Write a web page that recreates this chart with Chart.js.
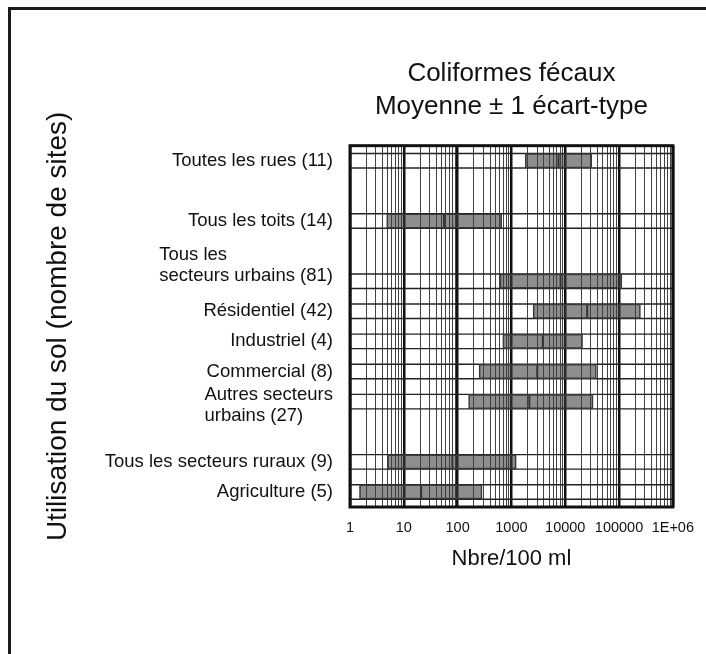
<!DOCTYPE html>
<html lang="fr">
<head>
<meta charset="utf-8">
<title>Coliformes fécaux</title>
<script src="https://cdn.jsdelivr.net/npm/chart.js@4.4.1/dist/chart.umd.min.js"></script>
<style>
  html, body { margin: 0; padding: 0; background: #fff; }
  #wrap { width: 706px; height: 654px; }
</style>
</head>
<body>
<div id="wrap"><canvas id="fecalChart" width="706" height="654"></canvas></div>
<script>
// Land use categories; empty strings keep the blank rows of the grid
const landUse = [
  "Toutes les rues (11)",
  "",
  "Tous les toits (14)",
  "",
  ["Tous les", "secteurs urbains (81)"],
  "Résidentiel (42)",
  "Industriel (4)",
  "Commercial (8)",
  ["Autres secteurs", "urbains (27)"],
  "",
  "Tous les secteurs ruraux (9)",
  "Agriculture (5)"
];

// Nbre/100 ml : moyenne - 1 écart-type, moyenne + 1 écart-type, moyenne
const lowSd  = [1800, null, 4.8, null, 610, 2530, 690, 250, 160, null, 5.0, 1.5];
const highSd = [31000, null, 660, null, 113000, 250000, 21000, 38000, 33000, null, 1230, 285];
const means  = [7500, null, 56, null, 8200, 25600, 3840, 3020, 2150, null, 80, 21];

const decadeLabels = ["1", "10", "100", "1000", "10000", "100000", "1E+06"];

const FONT = "'Liberation Sans', Arial, sans-serif";
Chart.defaults.font.family = FONT;
Chart.defaults.color = "#111";

function isDecade(v) {
  const e = Math.round(Math.log10(v));
  return Math.abs(v - Math.pow(10, e)) < 1e-9 * v;
}

/* =========================
   PLUGINS
========================= */

// white page with the rules on the left and top edge
const pageFrame = {
  id: "pageFrame",
  beforeDraw(chart) {
    const ctx = chart.ctx;
    ctx.save();
    ctx.fillStyle = "#fff";
    ctx.fillRect(0, 0, chart.width, chart.height);
    ctx.strokeStyle = "#1c1c1c";
    ctx.lineWidth = 3;
    ctx.beginPath();
    ctx.moveTo(9.5, chart.height);
    ctx.lineTo(9.5, 8.5);
    ctx.lineTo(chart.width, 8.5);
    ctx.stroke();
    ctx.restore();
  }
};

// horizontal rules along the top and bottom of every bar, plus the plot box
const barRules = {
  id: "barRules",
  beforeDatasetsDraw(chart) {
    const meta = chart.getDatasetMeta(0);
    const { left, right } = chart.chartArea;
    const ctx = chart.ctx;
    ctx.save();
    ctx.strokeStyle = "#222";
    ctx.lineWidth = 1.4;
    meta.data.forEach((bar, i) => {
      if (lowSd[i] == null) return;
      const half = bar.height / 2;
      [bar.y - half, bar.y + half].forEach((y) => {
        ctx.beginPath();
        ctx.moveTo(left, y);
        ctx.lineTo(right, y);
        ctx.stroke();
      });
    });
    ctx.restore();
  },
  afterDatasetsDraw(chart) {
    const { left, top, right, bottom } = chart.chartArea;
    const ctx = chart.ctx;
    ctx.save();
    ctx.strokeStyle = "#111";
    ctx.lineWidth = 3;
    ctx.strokeRect(left, top, right - left, bottom - top);
    ctx.restore();
  }
};

// category names, right aligned as a block, multi-line blocks left aligned inside
const rowLabels = {
  id: "rowLabels",
  afterDraw(chart, args, opts) {
    const yScale = chart.scales.y;
    const ctx = chart.ctx;
    ctx.save();
    ctx.font = opts.font;
    ctx.fillStyle = opts.color;
    ctx.textBaseline = "middle";
    ctx.textAlign = "left";
    chart.data.labels.forEach((label, i) => {
      if (!label) return;
      const lines = Array.isArray(label) ? label : [label];
      const w = Math.max(...lines.map((l) => ctx.measureText(l).width));
      const x = opts.right - w;
      const anchor = opts.anchorLine[i] || 0;
      const yc = yScale.getPixelForValue(i);
      lines.forEach((line, k) => ctx.fillText(line, x, yc + (k - anchor) * opts.lineHeight));
    });
    ctx.restore();
  }
};

/* =========================
   CHART
========================= */

const barData = landUse.map((_, i) => (lowSd[i] == null ? null : [lowSd[i], highSd[i]]));
// mean markers sit on the same category as their bar
const meanData = [];
means.forEach((m, i) => {
  if (m != null) meanData.push({ x: m, y: landUse[i] });
});

new Chart(document.getElementById("fecalChart"), {
  type: "bar",
  data: {
    labels: landUse,
    datasets: [
      {
        label: "Moyenne ± 1 écart-type",
        data: barData,
        backgroundColor: "rgba(60, 60, 60, 0.58)",
        borderColor: "#3a3a3a",
        borderWidth: 1,
        borderSkipped: false,
        barThickness: 14.5
      },
      {
        type: "scatter",
        label: "Moyenne",
        data: meanData,
        pointStyle: "line",
        rotation: 90,
        radius: 7,
        borderWidth: 2,
        borderColor: "#2b2b2b",
        backgroundColor: "#2b2b2b"
      }
    ]
  },
  options: {
    indexAxis: "y",
    responsive: false,
    animation: false,
    devicePixelRatio: 1,
    layout: { padding: { top: 57, right: 28.4, bottom: 82, left: 0 } },
    plugins: {
      legend: { display: false },
      tooltip: { enabled: false },
      title: {
        display: true,
        fullSize: false,
        text: ["Coliformes fécaux", "Moyenne ± 1 écart-type"],
        color: "#111",
        font: { size: 26, weight: "normal", lineHeight: 1.29 },
        padding: { top: 0, bottom: 21.6 }
      },
      rowLabels: {
        font: "18.5px " + FONT,
        color: "#111",
        right: 333,
        lineHeight: 21,
        anchorLine: { 4: 1.25, 8: 0.3 }
      }
    },
    scales: {
      x: {
        type: "logarithmic",
        min: 1,
        max: 1e6,
        afterBuildTicks(scale) {
          const ticks = [];
          for (let e = 0; e < 6; e++) {
            for (let m = 1; m < 10; m++) ticks.push({ value: m * Math.pow(10, e) });
          }
          ticks.push({ value: 1e6 });
          scale.ticks = ticks;
        },
        afterFit(scale) {
          scale.height = 65;
        },
        ticks: {
          autoSkip: false,
          maxRotation: 0,
          minRotation: 0,
          padding: 12,
          color: "#111",
          font: { size: 14.5 },
          callback(value) {
            return isDecade(value) ? decadeLabels[Math.round(Math.log10(value))] : "";
          }
        },
        grid: {
          drawTicks: false,
          color: (ctx) => (ctx.tick && isDecade(ctx.tick.value) ? "#111" : "#444"),
          lineWidth: (ctx) => (ctx.tick && isDecade(ctx.tick.value) ? 2.5 : 1)
        },
        border: { display: false },
        title: {
          display: true,
          text: "Nbre/100 ml",
          color: "#111",
          font: { size: 22 },
          padding: { top: 0, bottom: 0 }
        }
      },
      y: {
        type: "category",
        offset: true,
        afterFit(scale) {
          scale.width = 350;
        },
        ticks: { display: false },
        grid: { display: false },
        border: { display: false },
        title: {
          display: true,
          text: "Utilisation du sol (nombre de sites)",
          color: "#111",
          font: { size: 28 },
          padding: { top: 41, bottom: 0 }
        }
      }
    }
  },
  plugins: [pageFrame, barRules, rowLabels]
});
</script>
</body>
</html>
